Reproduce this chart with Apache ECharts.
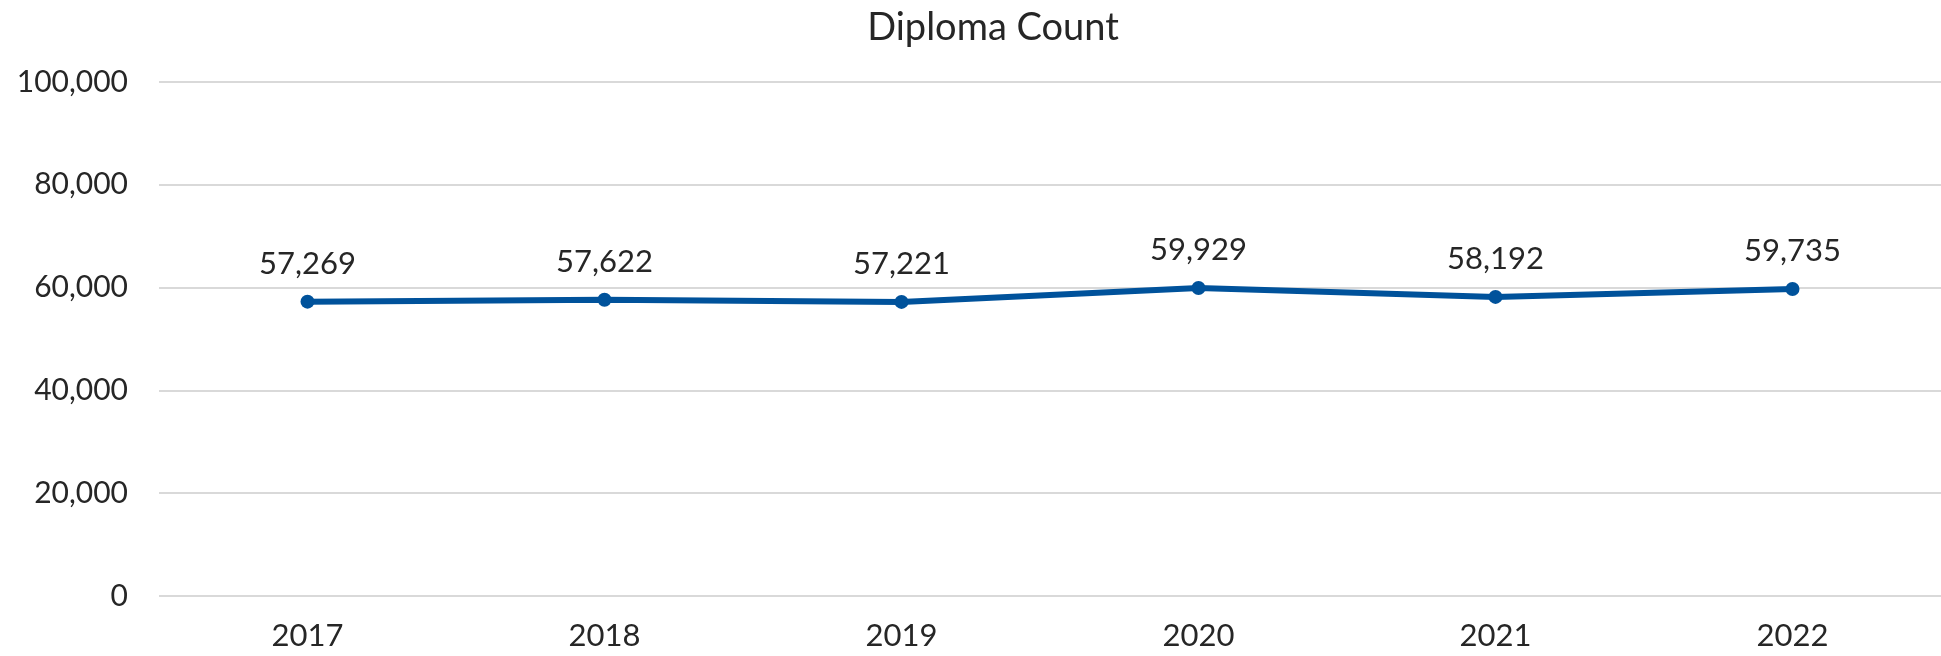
<!DOCTYPE html>
<html>
<head>
<meta charset="utf-8">
<script src="https://cdn.jsdelivr.net/npm/echarts@6/dist/echarts.min.js"></script>
<style>
html,body{margin:0;padding:0;background:#fff;}
#chart{width:1941px;height:656px;}
</style>
</head>
<body>
<div id="chart"></div>
<script>
const categories = ['2017', '2018', '2019', '2020', '2021', '2022'];
const diplomaCount = [57269, 57622, 57221, 59929, 58192, 59735];
const yTicks = [0, 20000, 40000, 60000, 80000, 100000];
const titleText = 'Diploma Count';

const fmt = v => Number(v).toLocaleString('en-US');
const chart = echarts.init(document.getElementById('chart'));
chart.setOption({
  backgroundColor: '#ffffff',
  animation: false,
  textStyle: { fontFamily: 'Lato' },
  title: {
    text: titleText,
    left: 988, top: 4, textAlign: 'center',
    textStyle: { fontFamily: 'Lato', fontSize: 38, fontWeight: 'normal', color: '#262626' }
  },
  grid: { left: 159, top: 82, width: 1800, height: 514, containLabel: false },
  xAxis: {
    type: 'category',
    data: categories,
    boundaryGap: true,
    axisLine: { show: false },
    axisTick: { show: false },
    axisLabel: { fontFamily: 'Lato', fontSize: 31, color: '#262626', margin: 24 }
  },
  yAxis: {
    type: 'value',
    min: yTicks[0], max: yTicks[yTicks.length - 1], interval: yTicks[1] - yTicks[0],
    axisLine: { show: false },
    axisTick: { show: false },
    splitLine: { lineStyle: { color: '#d9d9d9', width: 2 } },
    axisLabel: { fontFamily: 'Lato', fontSize: 30, color: '#262626', margin: 31, formatter: fmt }
  },
  series: [{
    type: 'line',
    data: diplomaCount,
    symbol: 'circle',
    symbolSize: 14,
    lineStyle: { color: '#00529b', width: 6 },
    itemStyle: { color: '#00529b' },
    label: {
      show: true, position: 'top', distance: 15,
      fontFamily: 'Lato', fontSize: 31, color: '#262626',
      formatter: p => fmt(p.value)
    }
  }]
});
</script>
</body>
</html>
